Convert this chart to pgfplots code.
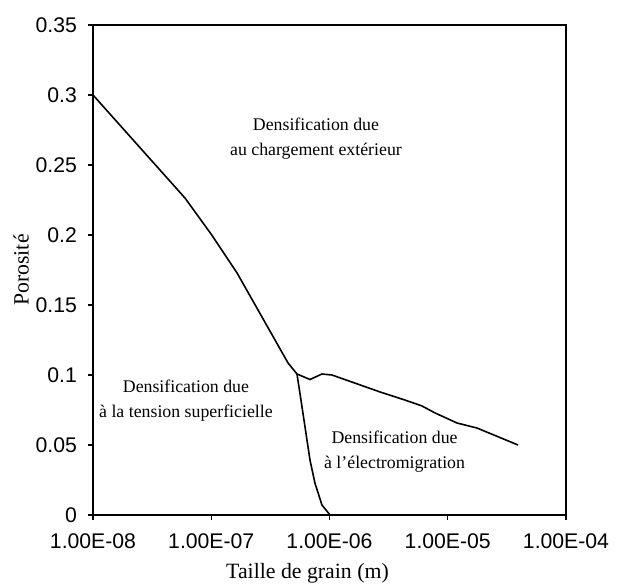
\documentclass[border=0pt]{standalone}
\usepackage{fontspec}
\setmainfont{Liberation Serif}
\setsansfont{Liberation Sans}
\usepackage{pgfplots}
\pgfplotsset{compat=1.18}
\usetikzlibrary{calc}
\begin{document}
\begin{tikzpicture}
\begin{axis}[
    scale only axis,
    width=236.5pt, height=245pt,
    xmode=log,
    xmin=1e-8, xmax=1e-4,
    ymin=0, ymax=0.35,
    xtick={1e-8,1e-7,1e-6,1e-5,1e-4},
    xticklabels={1.00E-08,1.00E-07,1.00E-06,1.00E-05,1.00E-04},
    ytick={0,0.05,0.1,0.15,0.2,0.25,0.3,0.35},
    yticklabels={0,0.05,0.1,0.15,0.2,0.25,0.3,0.35},
    xminorticks=false, yminorticks=false,
    tick align=outside, tick pos=left,
    major tick length=2.5pt,
    axis line style={line width=0.65pt},
    every tick/.style={line width=0.6pt, black},
    tick label style={font=\sffamily\fontsize{10.6}{12}\selectfont},
    xticklabel style={yshift=-3.5pt},
    yticklabel style={xshift=-2pt},
    xlabel={Taille de grain (m)},
    ylabel={Porosité},
    xlabel style={at={(axis description cs:0.4535,-0.118)}, anchor=center, font=\fontsize{10.9}{12}\selectfont},
    ylabel style={at={(axis description cs:-0.152,0.5)}, anchor=center, rotate=0, font=\fontsize{10.9}{12}\selectfont},
    clip=false,
]
% frontiere haute puis droite
\addplot[black, line width=0.8pt] coordinates {
    (1e-8, 0.300)
    (6.0e-8, 0.2264)
    (1.01e-7, 0.200)
    (1.65e-7, 0.173)
    (4.46e-7, 0.1086)
    (5.31e-7, 0.1007)
    (6.84e-7, 0.0968)
    (8.64e-7, 0.1007)
    (1.05e-6, 0.100)
    (2.67e-6, 0.0879)
    (4.35e-6, 0.0821)
    (6.05e-6, 0.0779)
    (7.80e-6, 0.0729)
    (1.20e-5, 0.0657)
    (1.77e-5, 0.0621)
    (3.93e-5, 0.050)
};
% frontiere basse
\addplot[black, line width=0.8pt] coordinates {
    (5.31e-7, 0.1007)
    (5.74e-7, 0.0821)
    (6.21e-7, 0.0629)
    (6.84e-7, 0.0393)
    (7.53e-7, 0.0229)
    (8.64e-7, 0.0071)
    (1.01e-6, 0)
};
\begin{scope}[every node/.style={align=center, font=\fontsize{8.9}{12.5}\selectfont}]
\node at (axis cs:7.69e-7,0.2686) {Densification due\\au chargement extérieur};
\node at (axis cs:6.11e-8,0.0814) {Densification due\\à la tension superficielle};
\node at (axis cs:3.55e-6,0.045) {Densification due\\à l’électromigration};
\end{scope}
\end{axis}
\pgfresetboundingbox
\path[use as bounding box] ($(current axis.south west)+(-46.5pt,-35.5pt)$) rectangle ($(current axis.north east)+(26.5pt,12.5pt)$);
\end{tikzpicture}
\end{document}
